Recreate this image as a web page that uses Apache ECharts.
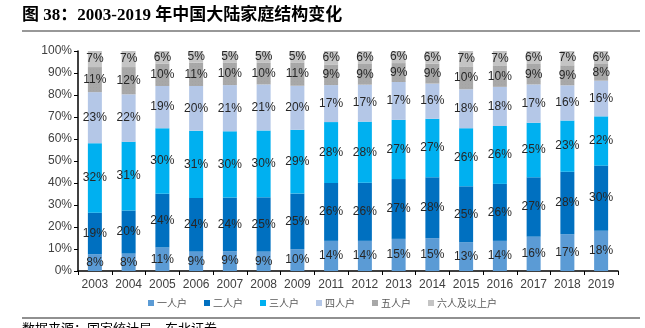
<!DOCTYPE html>
<html>
<head>
<meta charset="utf-8">
<script src="https://cdn.jsdelivr.net/npm/echarts@6/dist/echarts.min.js"></script>
<style>
  html, body { margin: 0; padding: 0; background: #fff; }
  #chart { width: 645px; height: 328px; }
</style>
</head>
<body>
<div id="chart"></div>
<script>
// Household structure by size, share of all households (%), 2003-2019 (2010 not published)
const years = ['2003','2004','2005','2006','2007','2008','2009','2011','2012','2013','2014','2015','2016','2017','2018','2019'];
const seriesNames = ['一人户','二人户','三人户','四人户','五人户','六人及以上户'];
const onePerson   = [7.6, 7.9, 10.7, 8.8, 9.0, 8.8, 9.9, 13.7, 13.7, 14.6, 14.9, 13.1, 13.7, 15.6, 16.7, 18.3];
const twoPerson   = [18.9, 19.6, 24.4, 24.4, 24.4, 24.7, 25.3, 26.3, 26.4, 27.2, 27.7, 25.4, 25.9, 27.0, 28.4, 29.6];
const threePerson = [31.6, 31.2, 29.8, 30.6, 30.1, 30.4, 29.0, 27.7, 27.8, 26.9, 26.6, 26.4, 26.3, 24.8, 23.3, 22.4];
const fourPerson  = [23.2, 21.6, 19.2, 20.3, 21.0, 20.9, 20.0, 16.8, 16.8, 17.2, 16.0, 17.7, 17.8, 17.4, 16.0, 16.2];
const fivePerson  = [11.4, 12.4, 10.2, 10.6, 10.3, 9.8, 10.6, 9.4, 9.4, 8.6, 9.0, 10.4, 9.5, 9.3, 9.1, 7.6];
const sixPlus     = [7.3, 7.3, 5.7, 5.3, 5.2, 5.4, 5.2, 6.1, 5.9, 5.5, 5.8, 7.0, 6.8, 5.9, 6.5, 5.9];
const yTicks = [0, 10, 20, 30, 40, 50, 60, 70, 80, 90, 100];

const values = [onePerson, twoPerson, threePerson, fourPerson, fivePerson, sixPlus];
const colors = ['#5B9BD5', '#0070C0', '#00B0F0', '#B4C7E7', '#A8A8A8', '#C4C4C4'];

const chart = echarts.init(document.getElementById('chart'), null, { renderer: 'canvas' });

const series = seriesNames.map((name, i) => ({
  name: name,
  type: 'bar',
  stack: 'share',
  barWidth: 14,
  data: values[i],
  itemStyle: i === 4
    ? { color: colors[i], decal: { symbol: 'rect', symbolSize: 0.5, dashArrayX: [1, 2], dashArrayY: [1, 2], color: 'rgba(120,120,120,0.3)', rotation: 0 } }
    : { color: colors[i] },
  label: {
    show: true,
    position: 'inside',
    formatter: p => Math.round(p.value) + '%',
    color: '#262626',
    fontFamily: 'Liberation Sans, Arial, sans-serif',
    fontSize: 12
  },
  emphasis: { disabled: true }
}));

chart.setOption({
  animation: false,
  backgroundColor: '#ffffff',
  grid: { left: 78, right: 27, top: 51, bottom: 57, containLabel: false },
  legend: {
    bottom: 15,
    left: 'center',
    itemWidth: 6,
    itemHeight: 6,
    itemGap: 17,
    icon: 'rect',
    textStyle: { color: '#595959', fontSize: 10, fontFamily: 'Noto Sans CJK SC, sans-serif', padding: [0, 0, 0, -2] },
    data: seriesNames
  },
  xAxis: {
    type: 'category',
    data: years,
    axisLine: { lineStyle: { color: '#000', width: 1.5 } },
    axisTick: { show: true, length: 4, lineStyle: { color: '#000' } },
    axisLabel: { color: '#404040', fontSize: 12, fontFamily: 'Liberation Sans, Arial, sans-serif', margin: 8, interval: 0 }
  },
  yAxis: {
    type: 'value',
    min: yTicks[0],
    max: yTicks[yTicks.length - 1],
    interval: 10,
    splitLine: { show: false },
    axisLine: { show: true, lineStyle: { color: '#000', width: 1.5 } },
    axisTick: { show: true, length: 4, lineStyle: { color: '#000' } },
    axisLabel: { color: '#404040', fontSize: 12, fontFamily: 'Liberation Sans, Arial, sans-serif', margin: 6, formatter: '{value}%' }
  },
  series: series,
  graphic: [
    {
      type: 'text', left: 22, top: 7,
      style: {
        text: '图 38：2003-2019 年中国大陆家庭结构变化',
        fill: '#000', fontSize: 17, fontWeight: 'bold',
        fontFamily: 'Liberation Serif, Noto Sans CJK SC, serif'
      }
    },
    {
      type: 'line', shape: { x1: 22, y1: 31, x2: 640, y2: 31 },
      style: { stroke: '#333', lineWidth: 1.2 }
    },
    {
      type: 'line', shape: { x1: 22, y1: 318, x2: 640, y2: 318 },
      style: { stroke: '#222', lineWidth: 1.2 }
    },
    {
      type: 'text', left: 22, top: 322,
      style: {
        text: '数据来源：国家统计局，东北证券',
        fill: '#000', fontSize: 13,
        fontFamily: 'Noto Sans CJK SC, sans-serif'
      }
    }
  ]
});
</script>
</body>
</html>
